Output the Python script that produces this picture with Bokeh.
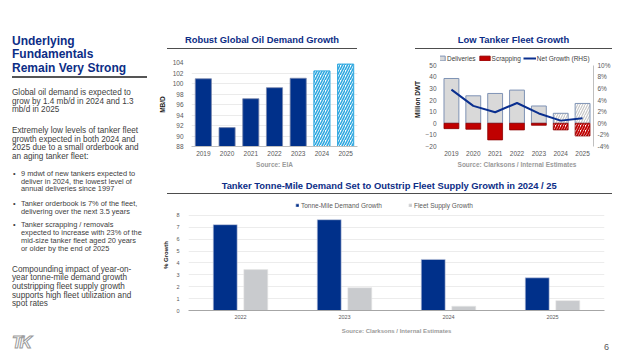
from bokeh.plotting import figure
from bokeh.models import (ColumnDataSource, Range1d, LinearAxis, Legend, LegendItem, Div,
                          FixedTicker, PrintfTickFormatter)
from bokeh.layouts import row, column
from bokeh.transform import dodge
from bokeh.embed import file_html
from bokeh.resources import INLINE

# ---------------- data ----------------
oil_years = ["2019", "2020", "2021", "2022", "2023", "2024", "2025"]
oil_demand = [100.9, 91.6, 97.1, 99.2, 101.0, 102.4, 103.7]
oil_forecast = [False, False, False, False, False, True, True]
oil_ticks = [88, 90, 92, 94, 96, 98, 100, 102, 104]

fleet_years = ["2019", "2020", "2021", "2022", "2023", "2024", "2025"]
deliveries = [38.6, 23.7, 25.7, 28.6, 14.9, 8.6, 17.1]
scrapping = [-4.6, -5.1, -14.3, -5.7, -1.7, -5.7, -10.9]
net_growth = [5.8, 3.0, 1.9, 3.5, 1.7, 0.46, 0.86]
fleet_forecast = [False, False, False, False, False, True, True]
dwt_ticks = [-20, -10, 0, 10, 20, 30, 40, 50]
pct_ticks = [-4, -2, 0, 2, 4, 6, 8, 10]
DWT_PER_PCT = 5  # left axis 50 Mdwt <-> right axis 10 %

tm_years = ["2022", "2023", "2024", "2025"]
tonne_mile_growth = [7.22, 7.64, 4.3, 2.75]
fleet_supply_growth = [3.44, 1.92, 0.36, 0.83]
growth_ticks = [0, 1, 2, 3, 4, 5, 6, 7, 8]

# ---------------- styles ----------------
FONT = "Liberation Sans"
NAVY = "#00308a"
TITLE_C = "#0c2d86"
TXT = "#404040"
TICK_C = "#595959"
SRC_C = "#9a9a9a"
LIGHT_BLUE = "#2fa8e0"
RED = "#c00000"
GRAY_BAR = "#d9d9d9"
GRAY_EDGE = "#7f93b5"


def style_axis(ax, size="6.5px"):
    ax.major_label_text_font = FONT
    ax.major_label_text_font_size = size
    ax.major_label_text_color = TICK_C
    ax.major_tick_line_color = None
    ax.minor_tick_line_color = None
    ax.major_tick_out = 0
    ax.major_tick_in = 0
    ax.minor_tick_out = 0
    ax.minor_tick_in = 0
    ax.axis_label_text_font = FONT
    ax.axis_label_text_font_style = "bold"


def base_fig(**kw):
    p = figure(output_backend="svg", toolbar_location=None, **kw)
    p.outline_line_color = None
    p.background_fill_color = "white"
    p.border_fill_color = "white"
    p.xgrid.grid_line_color = None
    return p


def style_legend(leg, size, color):
    leg.label_text_font = FONT
    leg.label_text_font_size = size
    leg.label_text_color = color
    leg.padding = 0
    leg.margin = 0
    leg.border_line_color = None
    leg.background_fill_alpha = 0
    leg.label_height = 8


# ---------------- chart 1 ----------------
p1 = base_fig(x_range=oil_years, y_range=Range1d(oil_ticks[0], oil_ticks[-1]), width=225, height=120,
              min_border_left=32, min_border_right=23, min_border_top=12, min_border_bottom=23)
act = [i for i, f in enumerate(oil_forecast) if not f]
fc = [i for i, f in enumerate(oil_forecast) if f]
s1a = ColumnDataSource(dict(x=[oil_years[i] for i in act], top=[oil_demand[i] for i in act]))
s1f = ColumnDataSource(dict(x=[oil_years[i] for i in fc], top=[oil_demand[i] for i in fc]))
p1.vbar(x="x", top="top", bottom=p1.y_range.start, width=0.68, source=s1a,
        fill_color=NAVY, line_color="#7a88ad", line_width=0.8)
p1.vbar(x="x", top="top", bottom=p1.y_range.start, width=0.68, source=s1f,
        fill_color="white", hatch_pattern="/", hatch_color=LIGHT_BLUE, hatch_weight=1.6,
        hatch_scale=5, line_color=LIGHT_BLUE, line_width=1)
p1.ygrid.grid_line_color = "#ebebeb"
p1.yaxis.ticker = FixedTicker(ticks=oil_ticks)
style_axis(p1.yaxis[0])
style_axis(p1.xaxis[0])
p1.yaxis.axis_line_color = None
p1.yaxis.axis_label = "MB/D"
p1.yaxis.axis_label_text_font_size = "6.5px"
p1.yaxis.axis_label_text_color = "#1a1a1a"
p1.yaxis.major_label_standoff = 8
p1.yaxis.axis_label_standoff = 4
p1.xaxis.axis_line_color = "#bfbfbf"
p1.xaxis.major_label_standoff = 4
p1.xaxis.axis_label = "Source: EIA"
p1.xaxis.axis_label_text_font_size = "6.5px"
p1.xaxis.axis_label_text_color = SRC_C
p1.xaxis.axis_label_standoff = 2

# ---------------- chart 2 ----------------
p2_y = Range1d(dwt_ticks[0], 61)  # headroom above 50 for the legend
p2 = base_fig(x_range=fleet_years, y_range=p2_y, width=260, height=120,
              min_border_left=60, min_border_right=47, min_border_top=2, min_border_bottom=23)
p2.extra_y_ranges = {"pct": Range1d(p2_y.start / DWT_PER_PCT, p2_y.end / DWT_PER_PCT)}
p2.ygrid.grid_line_color = None
fa = [i for i, f in enumerate(fleet_forecast) if not f]
ff = [i for i, f in enumerate(fleet_forecast) if f]
s2a = ColumnDataSource(dict(x=[fleet_years[i] for i in fa], d=[deliveries[i] for i in fa],
                            s=[scrapping[i] for i in fa]))
s2f = ColumnDataSource(dict(x=[fleet_years[i] for i in ff], d=[deliveries[i] for i in ff],
                            s=[scrapping[i] for i in ff]))
r_del = p2.vbar(x="x", top="d", bottom=0, width=0.68, source=s2a,
                fill_color=GRAY_BAR, line_color=GRAY_EDGE, line_width=1)
p2.vbar(x="x", top="d", bottom=0, width=0.68, source=s2f,
        fill_color="white", hatch_pattern="/", hatch_color="#c8c8c8", hatch_weight=1.2,
        hatch_scale=5, line_color=GRAY_EDGE, line_width=1)
r_scr = p2.vbar(x="x", top=0, bottom="s", width=0.68, source=s2a,
                fill_color=RED, line_color="#8a0000", line_width=0.8)
p2.vbar(x="x", top=0, bottom="s", width=0.68, source=s2f,
        fill_color="white", hatch_pattern="/", hatch_color=RED, hatch_weight=1.8,
        hatch_scale=5, line_color="#8a0000", line_width=0.8)
r_net = p2.line(x=fleet_years, y=net_growth, y_range_name="pct", line_color="#0a2f8f", line_width=2)
right_ax = LinearAxis(y_range_name="pct", ticker=FixedTicker(ticks=pct_ticks),
                      formatter=PrintfTickFormatter(format="%d%%"),
                      bounds=(pct_ticks[0], pct_ticks[-1]))
p2.add_layout(right_ax, "right")
p2.yaxis[0].ticker = FixedTicker(ticks=dwt_ticks)
for ax in p2.yaxis:
    style_axis(ax)
    ax.major_label_standoff = 4
p2.yaxis[0].axis_line_color = None
p2.yaxis[0].axis_label = "Million DWT"
p2.yaxis[0].axis_label_text_font_size = "6.5px"
p2.yaxis[0].axis_label_text_color = "#1a1a1a"
p2.yaxis[0].axis_label_standoff = 1
right_ax.axis_line_color = "#bfbfbf"
style_axis(p2.xaxis[0])
p2.xaxis.axis_line_color = None
p2.xaxis.major_label_standoff = 4
p2.xaxis.axis_label = "Source: Clarksons / Internal Estimates"
p2.xaxis.axis_label_text_font_size = "6.5px"
p2.xaxis.axis_label_text_color = SRC_C
p2.xaxis.axis_label_standoff = 2
leg2 = Legend(items=[LegendItem(label="Deliveries", renderers=[r_del]),
                     LegendItem(label="Scrapping", renderers=[r_scr]),
                     LegendItem(label="Net Growth (RHS)", renderers=[r_net])],
              orientation="horizontal", location=(-7, 84))
style_legend(leg2, "6.5px", TXT)
leg2.glyph_width = 13
leg2.glyph_height = 6
leg2.spacing = 2
leg2.label_standoff = 1
p2.add_layout(leg2, "center")

# ---------------- chart 3 ----------------
p3 = base_fig(x_range=tm_years, y_range=Range1d(growth_ticks[0], 9.34), width=485, height=145,
              min_border_left=33, min_border_right=36, min_border_top=4, min_border_bottom=30)
s3 = ColumnDataSource(dict(x=tm_years, tm=tonne_mile_growth, fs=fleet_supply_growth))
r_tm = p3.vbar(x=dodge("x", -0.147, range=p3.x_range), top="tm", width=0.23, source=s3,
               fill_color=NAVY, line_color="#c7cde0", line_width=0.6)
r_fs = p3.vbar(x=dodge("x", 0.147, range=p3.x_range), top="fs", width=0.23, source=s3,
               fill_color="#c9cbce", line_color="#e6e6e6", line_width=0.6)
p3.ygrid.grid_line_color = "#ececec"
p3.yaxis.ticker = FixedTicker(ticks=growth_ticks)
style_axis(p3.yaxis[0], "5.5px")
style_axis(p3.xaxis[0], "5.5px")
p3.yaxis.axis_line_color = None
p3.yaxis.major_label_standoff = 9
p3.yaxis.axis_label = "% Growth"
p3.yaxis.axis_label_text_font_size = "6px"
p3.yaxis.axis_label_text_color = "#1a1a1a"
p3.yaxis.axis_label_standoff = 4
p3.xaxis.axis_line_color = "#a6a6a6"
p3.xaxis.major_label_standoff = 4
p3.xaxis.axis_label = "Source: Clarksons / Internal Estimates"
p3.xaxis.axis_label_text_font_size = "6px"
p3.xaxis.axis_label_text_color = SRC_C
p3.xaxis.axis_label_standoff = 6
leg3 = Legend(items=[LegendItem(label="Tonne-Mile Demand Growth", renderers=[r_tm]),
                     LegendItem(label="Fleet Supply Growth", renderers=[r_fs])],
              orientation="horizontal", location=(107, 101))
style_legend(leg3, "6.5px", TICK_C)
leg3.glyph_width = 4
leg3.glyph_height = 4
leg3.spacing = 26
leg3.label_standoff = 2
p3.add_layout(leg3, "center")

# ---------------- text blocks ----------------
FF = "font-family:'Liberation Sans',Arial,sans-serif;"


def title_div(text, width, height, cy, ul_left, ul_width, ul_top):
    html = (f'<div style="position:relative;width:{width}px;height:{height}px;{FF}">'
            f'<div style="position:absolute;left:{ul_left}px;width:{ul_width}px;top:{cy - 6}px;'
            f'height:12px;line-height:12px;text-align:center;font-size:9.4px;font-weight:bold;'
            f'color:{TITLE_C};white-space:nowrap;">{text}</div>'
            f'<div style="position:absolute;left:{ul_left}px;width:{ul_width}px;top:{ul_top}px;'
            f'height:1.5px;background:#4d4d4d;"></div></div>')
    return Div(text=html, width=width, height=height, margin=(0, 0, 0, 0))


t1 = title_div("Robust Global Oil Demand Growth", 225, 50, 40, 12, 190, 47.6)
t2 = title_div("Low Tanker Fleet Growth", 260, 50, 40, 35, 197, 47.6)
t3 = title_div("Tanker Tonne-Mile Demand Set to Outstrip Fleet Supply Growth in 2024 / 25",
               485, 25, 15.7, 11.7, 445, 22.5)


def para(top, size, lh, html, left=12):
    return (f'<div style="position:absolute;left:{left}px;top:{top}px;font-size:{size}px;'
            f'line-height:{lh}px;white-space:nowrap;">{html}</div>')


def bullet(top, lh, html):
    return (f'<div style="position:absolute;left:13px;top:{top}px;font-size:7.4px;line-height:{lh}px;">&bull;</div>'
            + para(top, 7.4, lh, html, left=21))


left_html = (
    f'<div style="position:relative;width:155px;height:359px;{FF}color:{TXT};">'
    f'<div style="position:absolute;left:12px;top:35px;font-size:12px;line-height:13.3px;'
    f'font-weight:bold;color:{TITLE_C};white-space:nowrap;">Underlying<br>Fundamentals<br>Remain Very Strong</div>'
    f'<div style="position:absolute;left:12px;top:76px;width:135px;height:2px;background:#555;"></div>'
    + para(89.1, 8.2, 8.4, "Global oil demand is expected to<br>grow by 1.4 mb/d in 2024 and 1.3<br>mb/d in 2025")
    + para(127.4, 8.2, 8.5, "Extremely low levels of tanker fleet<br>growth expected in both 2024 and<br>"
                            "2025 due to a small orderbook and<br>an aging tanker fleet:")
    + bullet(170.2, 7.6, "9 mdwt of new tankers expected to<br>deliver in 2024, the lowest level of<br>annual deliveries since 1997")
    + bullet(199.5, 8.2, "Tanker orderbook is 7% of the fleet,<br>delivering over the next 3.5 years")
    + bullet(221.0, 8.1, "Tanker scrapping / removals<br>expected to increase with 23% of the<br>"
                         "mid-size tanker fleet aged 20 years<br>or older by the end of 2025")
    + para(265.6, 8.2, 8.7, "Compounding impact of year-on-<br>year tonne-mile demand growth<br>"
                            "outstripping fleet supply growth<br>supports high fleet utilization and<br>spot rates")
    + f'<div style="position:absolute;left:12px;top:334px;font-size:17px;line-height:18px;font-weight:bold;'
      f'font-style:italic;color:white;-webkit-text-stroke:1px #9a9a9a;letter-spacing:-3px;">TK</div>'
    + '</div>'
)
left = Div(text=left_html, width=155, height=359, margin=(0, 0, 0, 0))

foot = Div(text=(f'<div style="position:relative;width:485px;height:19px;{FF}">'
                 f'<div style="position:absolute;left:449px;top:1.5px;font-size:9px;line-height:11px;'
                 f'color:{TICK_C};">6</div></div>'),
           width=485, height=19, margin=(0, 0, 0, 0))

layout = row(left, column(row(column(t1, p1), column(t2, p2)), t3, p3, foot))

open("out.html", "w").write(file_html(layout, INLINE))
